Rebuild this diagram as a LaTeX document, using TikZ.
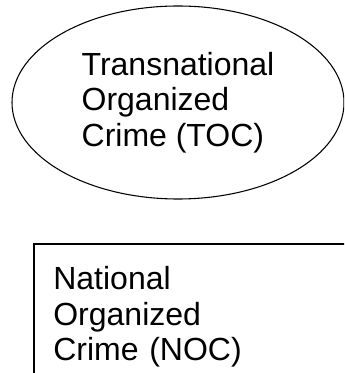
\documentclass[tikz,border=0pt]{standalone}
\usepackage{fontspec}
\setmainfont{Liberation Sans}
\usetikzlibrary{shapes.geometric}
\begin{document}
\begin{tikzpicture}[x=0.75pt,y=-0.75pt,
  lbl/.style={font=\fontsize{24pt}{26.6pt}\selectfont, align=left},
  ovalbox/.style={ellipse, draw, line width=0.8pt, inner sep=0pt,
    minimum width=249pt, minimum height=144.75pt},
  rectbox/.style={rectangle, draw, line width=1.5pt, anchor=north west,
    text width=250pt, inner xsep=14.5pt, inner ysep=17pt}]
\useasboundingbox (0,0) rectangle (344,373);
\clip (0,0) rectangle (344,373);
\node[ovalbox, lbl] (toc) at (178,102.5) {Transnational\\Organized\\Crime (TOC)};
\node[rectbox, lbl] (noc) at (33,243) {National\\Organized\\Crime (NOC)};
\end{tikzpicture}
\end{document}
